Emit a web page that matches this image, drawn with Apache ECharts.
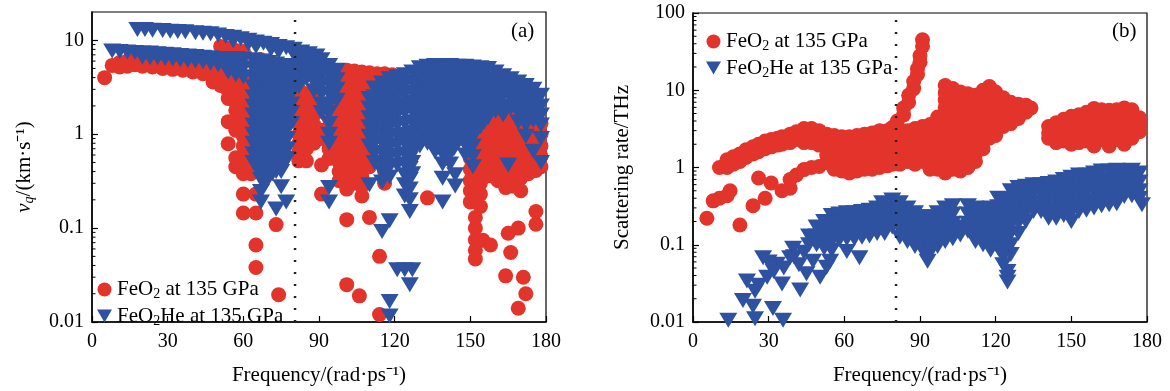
<!DOCTYPE html>
<html>
<head>
<meta charset="utf-8">
<script src="https://cdn.jsdelivr.net/npm/echarts@6/dist/echarts.min.js"></script>
<style>
  html, body { margin: 0; padding: 0; background: #fff; }
  #chart { width: 1170px; height: 391px; }
</style>
</head>
<body>
<div id="chart"></div>
<script>
// columns of points: [frequency, [values...]]
const feo2_a = [
  [5, [4.0]], [8, [5.4]], [11, [5.8, 5.2]], [14, [6.0, 5.3]], [17, [6.2, 5.5]],
  [20, [5.9, 5.3]], [24, [5.8, 5.2]], [28, [5.6, 5.0]], [32, [5.6, 4.9]], [36, [5.4, 4.8]],
  [40, [5.3, 4.6]], [44, [5.2, 4.4]], [48, [4.8, 4.1, 3.6]], [51, [4.6, 3.9, 3.3, 8.6]],
  [54, [4.3, 3.6, 2.9, 2.4, 1.36, 0.79, 8.2, 7.5]],
  [57, [4.0, 3.4, 2.8, 2.2, 1.8, 1.4, 1.1, 0.56, 0.45, 7.8]],
  [60, [3.6, 3.0, 2.4, 1.9, 1.5, 1.2, 0.95, 0.75, 0.6, 0.47, 0.38, 0.23, 0.145, 7.6, 7.0]],
  [63, [3.0, 2.4, 1.9, 1.5, 1.2, 0.95, 0.75, 0.6, 0.47, 0.38]],
  [65, [0.23, 0.145, 0.066, 0.038]], [67, [6.2, 5.8]], [70, [6.0]],
  [73, [0.109]], [74, [0.0195]],
  [82, [3.0, 2.5, 2.0, 1.6, 1.3, 1.0, 0.8, 0.65, 0.52]],
  [85, [2.7, 2.2, 1.8, 1.4, 1.1, 0.9, 0.7, 0.52]],
  [88, [2.5, 2.0, 1.6, 1.25, 1.0, 0.8]],
  [91, [0.47, 0.23, 1.1, 0.9]],
  [94, [1.5, 1.2, 0.9, 0.7, 0.55]],
  [98, [4.6, 3.6, 2.8, 2.2, 1.7, 1.35, 1.05, 0.82, 0.64, 0.5, 0.4, 0.32]],
  [101, [4.8, 3.8, 3.0, 2.3, 1.8, 1.4, 1.1, 0.85, 0.66, 0.52, 0.42, 0.33, 0.26, 0.123, 0.025]],
  [104, [4.7, 3.7, 2.9, 2.2, 1.7, 1.3, 1.0, 0.8, 0.62, 0.48, 0.38, 0.3]],
  [106, [0.019]],
  [107, [4.6, 3.6, 2.8, 2.1, 1.6, 1.25, 0.95, 0.75, 0.58, 0.45, 0.35, 0.28, 0.22]],
  [110, [4.5, 3.6, 2.7, 2.0, 1.5, 0.6, 0.45, 0.13]],
  [113, [4.4, 3.6, 2.8]], [114, [0.05, 0.012]], [116, [4.4, 3.7, 0.4, 0.3]],
  [119, [4.3, 3.5]], [122, [4.1]], [133, [0.21]],
  [150, [1.2, 0.9, 0.7, 0.55, 0.42, 0.32, 0.25, 0.19]],
  [152, [0.13, 0.1, 0.075, 0.058, 0.047]],
  [154, [1.4, 1.1, 0.85, 0.65, 0.5, 0.38, 0.3, 0.23, 0.17]], [155, [0.074]],
  [158, [1.3, 1.0, 0.8, 0.6, 0.47, 0.36, 0.066]],
  [161, [1.5, 1.2, 0.9, 0.7, 0.55, 0.42, 0.32]],
  [164, [1.6, 1.25, 0.95, 0.75, 0.58, 0.45, 0.35, 0.27, 0.031]],
  [165, [0.088]], [166, [0.055]],
  [167, [1.7, 1.3, 1.0, 0.8, 0.62, 0.48, 0.37, 0.28]],
  [169, [0.1, 0.014]],
  [170, [1.6, 1.25, 0.95, 0.74, 0.57, 0.44, 0.34, 0.25]],
  [171, [0.03]], [172, [0.02]],
  [173, [1.8, 1.4, 1.05, 0.82, 0.64, 0.5, 0.38]],
  [176, [1.9, 1.5, 1.15, 0.9, 0.7, 0.54, 0.41, 0.15, 0.11]],
  [178, [1.3, 1.0, 0.75, 0.58, 0.45]]
];

const feo2he_a = [
  // upper branch
  [18, [13]], [21, [13]], [24, [12.8]], [28, [12.7]], [31, [12.5]], [34, [12.4]],
  [37, [12.3]], [41, [12]], [44, [11.9]], [47, [11.7]], [50, [11.4]], [53, [11]],
  [56, [10.8, 9.8]], [59, [10.4]], [62, [10.0, 9.2]], [65, [9.6, 8.6]], [68, [9.3]],
  [71, [9.0, 8.0]], [74, [8.6, 7.6]], [77, [8.3]], [80, [8.0, 7.1]], [83, [7.5]],
  [86, [7.2]], [89, [6.8]],
  // second branch
  [8, [7.7]], [11, [7.6]], [14, [7.5]], [17, [7.4]], [20, [7.3, 6.6]], [23, [7.3, 6.5]],
  [26, [7.2, 6.5]], [29, [7.1, 6.4]], [32, [7.0, 6.3]], [35, [6.9, 6.2]], [38, [6.8, 6.1]],
  [41, [6.7, 6.0]], [44, [6.6, 5.9]], [47, [6.5, 5.7]], [50, [6.4, 5.5]],
  [54, [6.3, 5.3, 4.6]], [57, [6.4, 5.3, 4.3]], [60, [6.3, 5.1, 4.1]],
  [64, [6.2, 5.0, 4.0, 3.2, 2.5, 2.0, 1.6, 1.25, 1.0, 0.8, 0.62, 0.5]],
  [65.5, [5.5, 4.4, 3.5, 2.8, 2.2, 1.75, 1.4, 1.1, 0.9, 0.7, 0.56, 0.44]],
  [67, [6.0, 4.8, 3.8, 3.0, 2.4, 1.9, 1.5, 1.2, 0.95, 0.75, 0.6, 0.47, 0.37, 0.33, 0.245, 0.19]],
  [68.5, [5.3, 4.2, 3.4, 2.7, 2.1, 1.7, 1.35, 1.05, 0.85, 0.66, 0.52, 0.41, 0.3]],
  [70, [5.8, 4.6, 3.7, 2.9, 2.3, 1.8, 1.4, 1.1, 0.88, 0.7, 0.55, 0.43, 0.34]],
  [71.5, [5.1, 4.0, 3.2, 2.6, 2.0, 1.6, 1.25, 1.0, 0.78, 0.62, 0.48, 0.38]],
  [73, [5.6, 4.4, 3.5, 2.8, 2.2, 1.7, 1.35, 1.05, 0.83, 0.65, 0.5, 0.4, 0.16]],
  [74.5, [4.9, 3.9, 3.1, 2.5, 1.9, 1.5, 1.2, 0.93, 0.73, 0.57, 0.45]],
  [75, [0.275, 0.4, 0.5]],
  [76, [5.4, 4.3, 3.4, 2.7, 2.1, 1.65, 1.3, 1.0, 0.8, 0.62, 0.48]],
  [77, [0.19]],
  [77.5, [4.8, 3.8, 3.0, 2.4, 1.9, 1.5, 1.15, 0.9, 0.7, 0.55]],
  [79, [5.4, 4.3, 3.4, 2.7, 2.1, 1.7, 1.3]],
  [82, [6.0, 5.0, 4.0, 3.2]], [85, [5.8, 4.8, 3.9]], [88, [5.5, 4.5, 3.6, 2.9]],
  [91, [6.2, 5.2, 4.2, 3.4, 2.7, 2.1, 1.7]],
  [94, [5.4, 4.3, 3.4, 2.7, 2.1, 1.7, 1.3, 1.0, 0.8, 0.27, 0.19]],
  [97, [4.8, 3.8, 3.0, 2.3]],
  [110, [2.4, 1.9, 1.5, 1.2, 0.95, 0.75, 0.29]],
  [112, [3.1, 2.5, 2.0, 1.6, 1.25, 1.0, 0.8, 0.62, 0.5]],
  [115, [3.5, 2.8, 2.2, 1.7, 1.35, 1.05, 0.82, 0.64, 0.5, 0.4, 0.31, 0.092]],
  [118, [3.9, 3.1, 2.4, 1.9, 1.5, 1.2, 0.95, 0.74, 0.58, 0.45, 0.35, 0.12, 0.0165, 0.0116]],
  [121, [4.1, 3.2, 2.5, 2.0, 1.6, 1.25, 0.98, 0.77, 0.6, 0.47, 0.036]],
  [124, [4.3, 3.4, 2.7, 2.1, 1.7, 1.3, 1.0, 0.8, 0.62, 0.48, 0.37, 0.29, 0.22, 0.036]],
  [126, [0.9, 0.7, 0.55, 0.43, 0.33, 0.26, 0.2, 0.15, 0.025]],
  [127, [4.6, 3.6, 2.8, 2.2, 1.75, 1.35, 1.05, 0.82, 0.64, 0.5, 0.38, 0.036]],
  [128.5, [4.3, 3.4, 2.7, 2.1, 1.7, 1.35, 1.05, 0.85]],
  [130, [5.1, 4.0, 3.1, 2.5, 1.9, 1.5, 1.2, 0.95, 0.75]],
  [131.5, [4.6, 3.6, 2.8, 2.2, 1.75, 1.4, 1.1, 0.88]],
  [133, [5.3, 4.2, 3.3, 2.6, 2.0, 1.6, 1.25, 1.0, 0.8]],
  [134.5, [4.8, 3.8, 3.0, 2.4, 1.85, 1.45, 1.15, 0.9]],
  [136, [5.4, 4.3, 3.4, 2.7, 2.1, 1.7, 1.3, 1.05, 0.82, 0.65]],
  [137.5, [4.8, 3.8, 3.0, 2.4, 1.9, 1.5, 1.15, 0.92, 0.72]],
  [139, [5.4, 4.3, 3.4, 2.7, 2.1, 1.7, 1.3, 1.0, 0.8, 0.62, 0.48, 0.34, 0.19]],
  [140.5, [4.8, 3.8, 3.0, 2.4, 1.9, 1.5, 1.15, 0.9, 0.7, 0.55]],
  [142, [5.4, 4.3, 3.4, 2.7, 2.1, 1.7, 1.3, 1.0, 0.8, 0.62, 0.48]],
  [143.5, [4.8, 3.8, 3.0, 2.4, 1.9, 1.5, 1.15, 0.9, 0.7]],
  [144, [0.28, 0.37]],
  [145, [5.3, 4.2, 3.3, 2.6, 2.1, 1.65, 1.3, 1.0, 0.8]],
  [146.5, [4.7, 3.7, 2.9, 2.3, 1.85, 1.45, 1.15, 0.9]],
  [148, [5.3, 4.2, 3.3, 2.6, 2.0, 1.6, 1.25, 0.98, 0.77, 0.6]],
  [149.5, [4.7, 3.7, 2.9, 2.3, 1.8, 1.4, 1.1, 0.87, 0.68]],
  [151, [5.2, 4.1, 3.2, 2.5, 2.0, 1.55, 1.2, 0.95, 0.75, 0.58, 0.45]],
  [152.5, [4.6, 3.6, 2.8, 2.2, 1.75, 1.38, 1.08]],
  [154, [5.1, 4.0, 3.2, 2.5, 1.95, 1.55, 1.2]],
  [155.5, [4.5, 3.5, 2.8, 2.2, 1.7, 1.35]],
  [157, [5.0, 3.9, 3.1, 2.4, 1.9, 1.5]],
  [160, [4.6, 3.6, 2.8, 2.2, 1.75]],
  [163, [4.2, 3.3, 2.6, 2.0, 1.6]],
  [165, [0.47]],
  [166, [3.9, 3.1, 2.4, 1.9]],
  [169, [3.6, 2.8, 2.2, 1.7, 1.35]],
  [172, [3.3, 2.6, 2.0, 1.6, 1.25, 0.95]],
  [175, [3.0, 2.3, 1.8, 1.4, 0.66]],
  [178, [2.6, 2.0, 1.6, 1.25, 0.9, 0.5]]
];

const feo2_b = [
  [5.5, [0.22]], [8, [0.37]], [10.5, [0.4, 1.0]], [13.5, [0.43, 1.26, 1.0]], [14.7, [0.5]],
  [16, [1.38, 1.1]], [18.6, [0.18, 1.5, 1.2]], [21, [1.7, 1.35]], [23.8, [0.32, 1.85, 1.5]],
  [26, [2.0, 1.6, 0.73]], [28.6, [0.4, 2.2, 1.75]], [31, [2.3, 1.85, 0.63]], [33.5, [2.4, 1.95]],
  [35.3, [0.5, 2.5, 2.0]], [38.5, [0.54, 0.7, 2.7, 2.1]], [41, [2.9, 2.3, 0.8]],
  [44, [3.2, 2.6, 2.1, 0.94]], [47, [3.2, 2.6, 2.1, 1.0]], [50, [3.0, 2.4, 1.95, 1.03]],
  [53, [2.7, 2.2, 1.8, 1.45, 1.15]], [56, [2.6, 2.1, 1.7, 1.4, 1.15, 0.95]],
  [59, [2.5, 2.0, 1.65, 1.35, 1.1, 0.9]], [62, [2.5, 2.0, 1.6, 1.3, 1.05, 0.85]],
  [65, [2.6, 2.1, 1.7, 1.4, 1.1, 0.9]], [68, [2.7, 2.2, 1.8, 1.45, 1.2, 0.95]],
  [71, [2.8, 2.3, 1.85, 1.5, 1.2, 0.95]], [74, [3.0, 2.4, 1.9, 1.55, 1.25, 1.0]],
  [77, [3.0, 2.4, 1.95, 1.6, 1.3, 1.05]], [79, [3.3, 2.6, 2.1, 1.7, 1.35, 1.1]],
  [81, [4.0, 3.2]], [83.5, [5.9, 4.8]], [85.5, [8.6, 7.0]], [87.5, [13, 10.5]],
  [89, [19, 16]], [90, [28, 23]], [91, [45, 37]],
  [82, [2.6, 2.1, 1.7, 1.35, 1.1]], [85, [3.0, 2.4, 1.9, 1.5, 1.2]],
  [88, [3.2, 2.6, 2.1, 1.7, 1.35, 1.1]], [91, [3.4, 2.7, 2.2, 1.8, 1.45, 1.2]],
  [94, [3.6, 2.9, 2.3, 1.85, 1.5, 1.2, 0.95]],
  [97, [4.5, 3.6, 2.9, 2.3, 1.85, 1.5, 1.2, 0.95]],
  [100, [11.5, 9.3, 7.5, 6.0, 4.8, 3.9, 3.1, 2.5, 2.0, 1.6, 1.3, 1.05, 0.85]],
  [103, [10.5, 8.5, 6.8, 5.5, 4.4, 3.5, 2.8, 2.3, 1.85, 1.5, 1.2, 0.95]],
  [106, [9.5, 7.7, 6.2, 5.0, 4.0, 3.2, 2.6, 2.1, 1.7, 1.35, 1.1, 0.9]],
  [109, [9.0, 7.3, 5.9, 4.7, 3.8, 3.0, 2.4, 1.95, 1.55, 1.25, 1.0]],
  [112, [8.6, 7.0, 5.6, 4.5, 3.6, 2.9, 2.3, 1.85, 1.5, 1.2]],
  [115, [10, 8.1, 6.5, 5.2, 4.2, 3.4, 2.7, 2.2, 1.75]],
  [117.5, [11.2, 9.0, 7.3, 5.9, 4.7, 3.8, 3.0, 2.4]],
  [120, [9.5, 7.7, 6.2, 5.0, 4.0, 3.2, 2.6]],
  [123, [8.0, 6.5, 5.2, 4.2, 3.4]], [126, [7.0, 5.7, 4.6, 3.7]],
  [129, [6.6, 5.3, 4.3]], [132, [6.4, 5.2]], [134, [5.9]],
  [141, [3.4, 2.8, 2.4]], [144, [3.8, 3.1, 2.5, 2.1]], [147, [4.2, 3.4, 2.8, 2.2]],
  [150, [4.6, 3.7, 3.0, 2.4, 2.0]], [153, [4.8, 3.9, 3.2, 2.6, 2.1]],
  [156, [5.2, 4.2, 3.4, 2.8, 2.2]], [159, [5.8, 4.7, 3.8, 3.1, 2.5, 1.9]],
  [162, [5.6, 4.5, 3.6, 2.9, 2.3]], [165, [5.5, 4.4, 3.6, 2.9, 2.3, 1.9]],
  [168, [5.6, 4.5, 3.6, 2.9, 2.3]], [171, [5.9, 4.7, 3.8, 3.1, 2.5, 2.0]],
  [174, [5.6, 4.5, 3.6, 2.9, 2.4]], [177, [4.4, 3.6, 2.9]]
];

const feo2he_b = [
  [14, [0.0105]], [19.8, [0.019]], [21.4, [0.034]], [23.8, [0.016]], [24.6, [0.011, 0.025]],
  [26, [0.03]], [27.8, [0.068]], [29.4, [0.038]], [30, [0.06]], [31.7, [0.015]],
  [32, [0.045]], [33.3, [0.056]], [35.3, [0.031]], [35.7, [0.0105]], [36, [0.05]],
  [38.5, [0.068]], [39.7, [0.09]], [40, [0.07]], [42, [0.055]], [42.5, [0.026]],
  [44, [0.08]], [45, [0.042]], [47.6, [0.061]], [50.4, [0.038]], [53, [0.051]], [54.4, [0.061]],
  [46, [0.13, 0.1]], [49, [0.17, 0.13, 0.1]], [52, [0.2, 0.155, 0.12, 0.09]],
  [55, [0.24, 0.19, 0.145, 0.11, 0.085]], [58, [0.25, 0.19, 0.15, 0.115]],
  [61, [0.26, 0.2, 0.155, 0.12, 0.082]], [64, [0.26, 0.2, 0.155, 0.12]], [66, [0.068]],
  [67, [0.27, 0.21, 0.16, 0.125]], [70, [0.28, 0.22, 0.17, 0.13]],
  [73, [0.3, 0.23, 0.18, 0.14]], [75, [0.35]], [76, [0.3, 0.23, 0.18, 0.14]],
  [79, [0.38, 0.29, 0.22, 0.17]], [82, [0.35, 0.27, 0.21, 0.16, 0.125]],
  [85, [0.3, 0.23, 0.18, 0.14, 0.11]], [88, [0.26, 0.2, 0.155, 0.12, 0.095]],
  [91, [0.23, 0.18, 0.14, 0.11, 0.085]], [93, [0.07, 0.061]],
  [94, [0.23, 0.18, 0.14, 0.11, 0.085]], [97, [0.26, 0.2, 0.155, 0.12, 0.095]],
  [100, [0.3, 0.23, 0.18, 0.14, 0.11]], [103, [0.32, 0.25, 0.19, 0.15, 0.12]],
  [106, [0.17, 0.134]], [109, [0.32, 0.25, 0.19, 0.15]],
  [112, [0.3, 0.23, 0.18, 0.14, 0.11]], [115, [0.28, 0.22, 0.17, 0.13, 0.1]],
  [118, [0.3, 0.23, 0.18, 0.14, 0.11, 0.085]],
  [121, [0.4, 0.31, 0.24, 0.19, 0.15, 0.12, 0.09]],
  [123, [0.35, 0.27, 0.21, 0.16, 0.12, 0.09, 0.07, 0.055]],
  [124.7, [0.045, 0.038, 0.033]],
  [126, [0.5, 0.39, 0.3, 0.23, 0.18, 0.14, 0.1, 0.075]],
  [129, [0.55, 0.43, 0.33, 0.25, 0.19, 0.14]], [132, [0.57, 0.44, 0.34, 0.26, 0.2]],
  [135, [0.6, 0.46, 0.35, 0.27]], [138, [0.6, 0.46, 0.35, 0.27]],
  [141, [0.62, 0.48, 0.37, 0.28, 0.22]], [144, [0.65, 0.5, 0.38, 0.29, 0.22]],
  [147, [0.7, 0.53, 0.41, 0.31, 0.24]], [150, [0.75, 0.57, 0.44, 0.34, 0.26, 0.2]],
  [153, [0.8, 0.6, 0.46, 0.35, 0.27]], [156, [0.8, 0.62, 0.48, 0.37, 0.28]],
  [159, [0.85, 0.65, 0.5, 0.38, 0.3]], [162, [0.9, 0.69, 0.53, 0.41, 0.32]],
  [165, [0.9, 0.69, 0.53, 0.41, 0.33]], [168, [0.92, 0.71, 0.55, 0.42, 0.34]],
  [171, [0.9, 0.7, 0.54, 0.42]], [174, [0.92, 0.71, 0.55, 0.43]],
  [177, [0.85, 0.65, 0.5, 0.4]], [178, [0.33]]
];

const xTicks = [0, 30, 60, 90, 120, 150, 180];
const yRangeA = [0.01, 20];
const yRangeB = [0.01, 100];
const dotX = 80.5;

const RED = '#e3342c';
const BLUE = '#2e52a0';
const FONT = '"Liberation Serif", "Times New Roman", serif';
const TRI = 'path://M0,0L10,0L5,8.7Z';

function expand(cols) {
  const out = [];
  cols.forEach(([x, ys]) => ys.forEach(y => out.push([x, y])));
  return out;
}

const chart = echarts.init(document.getElementById('chart'));

const rich = {
  sub: { fontFamily: FONT, fontSize: 14, fontStyle: 'italic', padding: [10, 0, 0, 0], color: '#000' },
  i: { fontFamily: FONT, fontSize: 21, fontStyle: 'italic', color: '#000' },
  n: { fontFamily: FONT, fontSize: 21, color: '#000' }
};

function xAxis(gi) {
  return {
    gridIndex: gi, type: 'value', min: xTicks[0], max: xTicks[xTicks.length - 1], interval: 30,
    name: 'Frequency/(rad·ps⁻¹)', nameLocation: 'middle', nameGap: 43,
    nameTextStyle: { fontFamily: FONT, fontSize: 21, color: '#000' },
    axisLine: { lineStyle: { color: '#000', width: 1.5 } },
    axisTick: { inside: true, length: 6, lineStyle: { color: '#000', width: 1.2 } },
    axisLabel: { fontFamily: FONT, fontSize: 20, color: '#000', margin: 10 },
    splitLine: { show: false }
  };
}

function yAxis(gi, range, name, gap) {
  return {
    gridIndex: gi, type: 'log', logBase: 10, min: range[0], max: range[1],
    name: name, nameLocation: 'middle', nameGap: gap, nameRotate: 90,
    nameTextStyle: { fontFamily: FONT, fontSize: 21, color: '#000', rich: rich },
    axisLine: { lineStyle: { color: '#000', width: 1.5 } },
    axisTick: { inside: true, length: 6, lineStyle: { color: '#000', width: 1.2 } },
    axisLabel: {
      fontFamily: FONT, fontSize: 20, color: '#000', margin: 8,
      showMaxLabel: range[1] === 100,
      formatter: v => String(+v.toPrecision(3))
    },
    splitLine: { show: false }
  };
}

function scatter(name, gi, cols, isTri) {
  return {
    name: name, type: 'scatter', xAxisIndex: gi, yAxisIndex: gi,
    data: expand(cols),
    symbol: isTri ? TRI : 'circle',
    symbolSize: isTri ? [18, 15] : 15,
    itemStyle: { color: isTri ? BLUE : RED, opacity: 1 },
    silent: true, animation: false
  };
}

function dotLine(gi, range) {
  return {
    type: 'line', xAxisIndex: gi, yAxisIndex: gi, z: 5,
    data: [[dotX, range[0]], [dotX, range[1]]],
    symbol: 'none', silent: true, animation: false,
    lineStyle: { color: '#222', width: 2.5, type: [2, 10] }
  };
}

const legendText = {
  fontFamily: FONT, fontSize: 21, color: '#000',
  rich: { sub: { fontFamily: FONT, fontSize: 14, padding: [10, 0, 0, 0], color: '#000' } }
};
const legendFmt = n => n.trim().replace('FeO2', 'FeO{sub|2}');

chart.setOption({
  animation: false,
  backgroundColor: '#fff',
  grid: [
    { left: 92, top: 12, width: 454, height: 316, show: true, borderColor: '#000', borderWidth: 1.2 },
    { left: 693, top: 13, width: 454, height: 316, show: true, borderColor: '#000', borderWidth: 1.2 }
  ],
  xAxis: [xAxis(0), xAxis(1)],
  yAxis: [
    yAxis(0, yRangeA, '{i|v}{sub|q}{n|/(km·s⁻¹)}', 56),
    yAxis(1, yRangeB, 'Scattering rate/THz', 60)
  ],
  legend: [
    {
      left: 97, top: 279, padding: 0, orient: 'vertical', itemGap: 4, itemWidth: 15, itemHeight: 14,
      data: [{ name: 'FeO2 at 135 GPa', icon: 'circle' }, { name: 'FeO2He at 135 GPa', icon: TRI }],
      textStyle: legendText, formatter: legendFmt, selectedMode: false
    },
    {
      left: 706, top: 31, padding: 0, orient: 'vertical', itemGap: 4, itemWidth: 15, itemHeight: 14,
      data: [{ name: 'FeO2 at 135 GPa ', icon: 'circle' }, { name: 'FeO2He at 135 GPa ', icon: TRI }],
      textStyle: legendText, formatter: legendFmt, selectedMode: false
    }
  ],
  series: [
    scatter('FeO2 at 135 GPa', 0, feo2_a, false),
    scatter('FeO2He at 135 GPa', 0, feo2he_a, true),
    dotLine(0, yRangeA),
    scatter('FeO2 at 135 GPa ', 1, feo2_b, false),
    scatter('FeO2He at 135 GPa ', 1, feo2he_b, true),
    dotLine(1, yRangeB)
  ]
});

// minor log ticks (2..9 in each decade), placed through the axis scale
const minor = [];
[[0, yRangeA, 92], [1, yRangeB, 693]].forEach(([gi, range, left]) => {
  for (let d = -2; d <= 2; d++) {
    for (let k = 2; k <= 9; k++) {
      const v = k * Math.pow(10, d);
      if (v <= range[0] || v >= range[1]) continue;
      const py = chart.convertToPixel({ yAxisIndex: gi }, v);
      minor.push({
        type: 'line', silent: true, z: 10,
        shape: { x1: left, y1: py, x2: left + 3.5, y2: py },
        style: { stroke: '#000', lineWidth: 1 }
      });
    }
  }
});

chart.setOption({
  graphic: minor.concat([
    { type: 'text', left: 511, top: 21, silent: true,
      style: { text: '(a)', font: '21px ' + FONT, fill: '#000' } },
    { type: 'text', left: 1112, top: 21, silent: true,
      style: { text: '(b)', font: '21px ' + FONT, fill: '#000' } }
  ])
});
</script>
</body>
</html>
